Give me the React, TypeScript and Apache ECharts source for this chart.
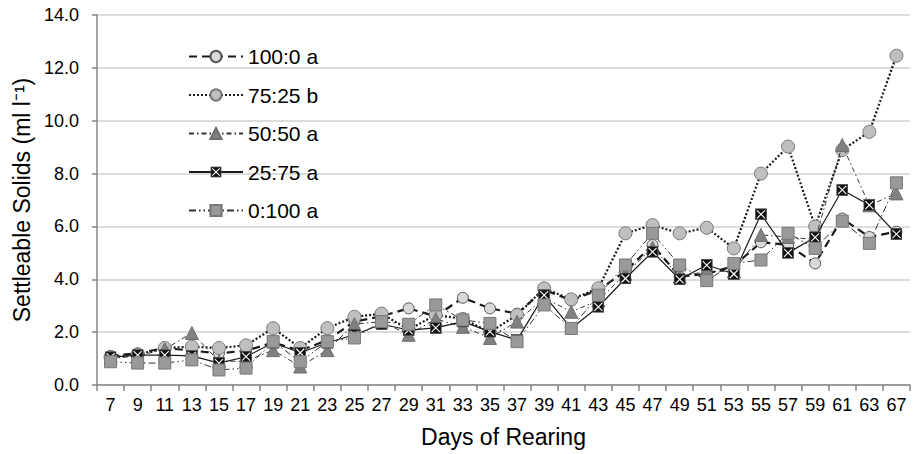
import React, { useEffect, useRef } from "react";
import * as echarts from "echarts";

const days = ["7","9","11","13","15","17","19","21","23","25","27","29","31","33","35","37","39","41","43","45","47","49","51","53","55","57","59","61","63","67"];

const s100_0 = [1.1,1.2,1.4,1.3,1.2,1.3,1.6,1.3,1.7,2.4,2.6,2.9,2.6,3.3,2.9,2.7,3.6,3.2,3.6,4.3,5.3,4.1,4.2,4.5,5.4,5.3,4.6,6.3,5.6,5.8];
const s75_25 = [1.05,1.15,1.4,1.45,1.4,1.5,2.15,1.4,2.15,2.58,2.7,2.1,2.65,2.5,2.0,2.65,3.66,3.24,3.66,5.74,6.05,5.74,5.95,5.17,8.0,9.02,6.0,8.89,9.58,12.46];
const s50_50 = [1.0,1.1,1.35,1.97,0.9,0.9,1.32,0.7,1.32,2.3,2.4,1.9,2.5,2.2,1.78,2.4,3.3,2.77,3.2,4.2,5.2,4.1,4.3,4.3,5.68,5.6,5.5,9.08,6.8,7.25];
const s25_75 = [1.05,1.13,1.13,1.1,0.83,1.07,1.6,1.22,1.6,1.9,2.3,2.08,2.16,2.4,2.02,1.7,3.4,2.14,2.96,4.03,5.04,4.0,4.54,4.2,6.46,5.0,5.59,7.38,6.81,5.71];
const s0_100 = [0.88,0.83,0.83,0.95,0.57,0.64,1.64,0.88,1.64,1.78,2.4,2.3,3.03,2.46,2.33,1.64,3.03,2.14,3.4,4.54,5.74,4.54,3.95,4.6,4.73,5.74,5.17,6.2,5.36,7.65];

const seriesNames = ["100:0 a", "75:25 b", "50:50 a", "25:75 a", "0:100 a"];

const xSquareSvg =
  "data:image/svg+xml;utf8," +
  encodeURIComponent(
    '<svg xmlns="http://www.w3.org/2000/svg" width="24" height="24" viewBox="0 0 24 24">' +
      '<rect x="1" y="1" width="22" height="22" fill="#111" stroke="#555" stroke-width="2"/>' +
      '<line x1="4" y1="4" x2="20" y2="20" stroke="#fff" stroke-width="2.2"/>' +
      '<line x1="20" y1="4" x2="4" y2="20" stroke="#fff" stroke-width="2.2"/>' +
      "</svg>"
  );

export default function App() {
  const ref = useRef<HTMLDivElement>(null);

  useEffect(() => {
    if (!ref.current) return;
    const chart = echarts.init(ref.current, undefined, { renderer: "svg" });
    const font = "Liberation Sans, Arial, sans-serif";
    const option = {
      animation: false,
      backgroundColor: "#ffffff",
      textStyle: { fontFamily: font },
      grid: { left: 97, right: 5, top: 15, bottom: 69, containLabel: false },
      legend: {
        orient: "vertical",
        left: 183,
        top: 41,
        itemWidth: 54,
        itemHeight: 14,
        itemGap: 17.5,
        textStyle: { fontSize: 21, color: "#000", fontFamily: font },
        data: seriesNames,
      },
      xAxis: {
        type: "category",
        data: days,
        boundaryGap: true,
        name: "Days of Rearing",
        nameLocation: "middle",
        nameGap: 40,
        nameTextStyle: { fontSize: 23, color: "#000", fontFamily: font },
        axisLine: { show: true, lineStyle: { color: "#868686", width: 1.5 } },
        axisTick: { show: true, length: 6, alignWithLabel: false, lineStyle: { color: "#868686", width: 1.5 } },
        axisLabel: { interval: 0, fontSize: 18, color: "#000", margin: 11, fontFamily: font },
        splitLine: { show: false },
      },
      yAxis: {
        type: "value",
        min: 0,
        max: 14,
        interval: 2,
        name: "Settleable Solids (ml l\u207B\u00B9)",
        nameLocation: "middle",
        nameGap: 54,
        nameRotate: 90,
        nameTextStyle: { fontSize: 23, color: "#000", fontFamily: font },
        axisLine: { show: true, lineStyle: { color: "#868686", width: 1.5 } },
        axisTick: { show: true, length: 5, inside: false, lineStyle: { color: "#868686", width: 1.5 } },
        axisLabel: {
          fontSize: 18,
          color: "#000",
          margin: 18,
          fontFamily: font,
          formatter: (v: number) => v.toFixed(1),
        },
        splitLine: { show: true, lineStyle: { color: "#dcdcdc", width: 2 } },
      },
      series: [
        {
          name: seriesNames[0],
          type: "line",
          data: s100_0,
          symbol: "circle",
          symbolSize: 11,
          lineStyle: { color: "#1a1a1a", width: 2.2, type: [8, 5] },
          itemStyle: { color: "#d9d9d9", borderColor: "#555", borderWidth: 1 },
          z: 2,
        },
        {
          name: seriesNames[1],
          type: "line",
          data: s75_25,
          symbol: "circle",
          symbolSize: 13,
          lineStyle: { color: "#1a1a1a", width: 2.2, type: [2, 2] },
          itemStyle: { color: "#bfbfbf", borderColor: "#7a7a7a", borderWidth: 1 },
          z: 3,
        },
        {
          name: seriesNames[2],
          type: "line",
          data: s50_50,
          symbol: "triangle",
          symbolSize: 13,
          lineStyle: { color: "#333", width: 1, type: [5, 3, 1.5, 3] },
          itemStyle: { color: "#808080", borderColor: "#6e6e6e", borderWidth: 1 },
          z: 4,
        },
        {
          name: seriesNames[3],
          type: "line",
          data: s25_75,
          symbol: "image://" + xSquareSvg,
          symbolSize: 12,
          lineStyle: { color: "#1a1a1a", width: 1.2, type: "solid" },
          itemStyle: { color: "#111" },
          z: 5,
        },
        {
          name: seriesNames[4],
          type: "line",
          data: s0_100,
          symbol: "rect",
          symbolSize: 12,
          lineStyle: { color: "#333", width: 1, type: [7, 3, 1.5, 3, 1.5, 3] },
          itemStyle: { color: "#999999", borderColor: "#777", borderWidth: 1 },
          z: 6,
        },
      ],
    };
    chart.setOption(option as any);
    return () => chart.dispose();
  }, []);

  return (
    <div
      ref={ref}
      style={{ position: "absolute", left: 0, top: 0, width: 915, height: 454 }}
    />
  );
}
